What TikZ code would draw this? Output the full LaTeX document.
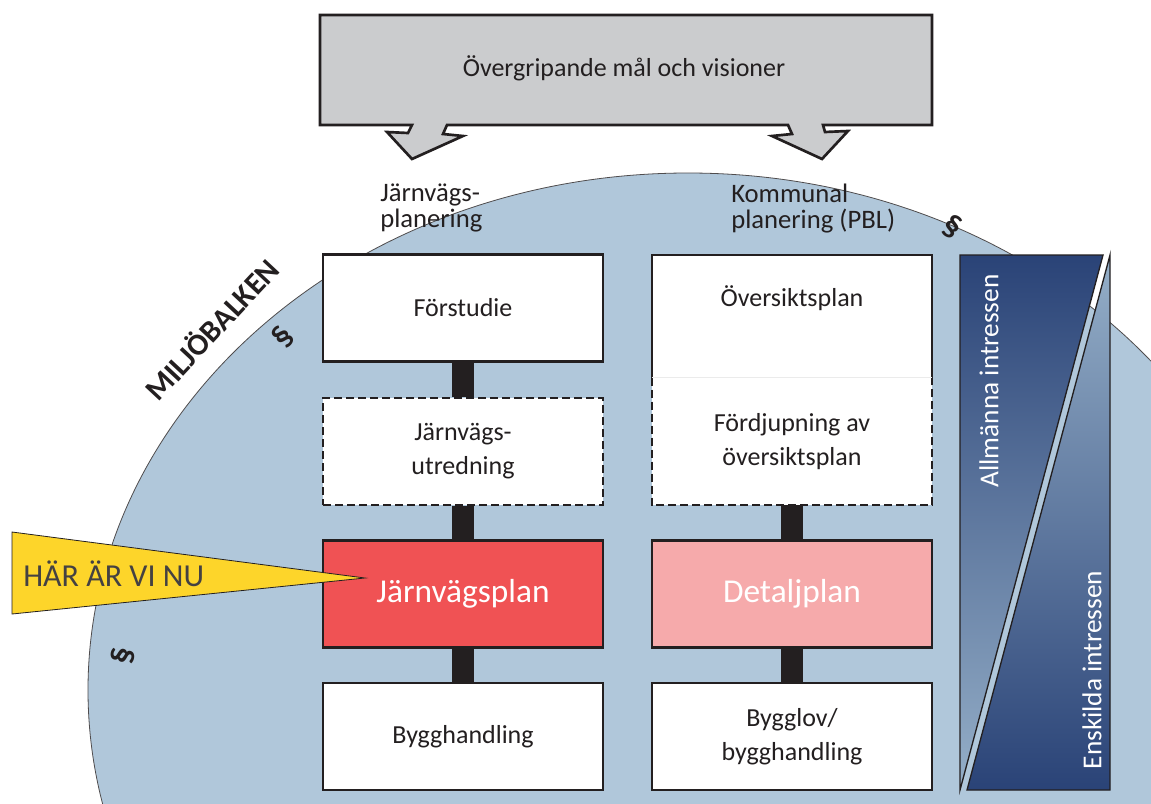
\documentclass[tikz,border=0pt]{standalone}
\usepackage{fontspec}
\setmainfont{Carlito}
\definecolor{bgblue}{HTML}{B0C7DA}
\definecolor{boxgray}{HTML}{CBCCCE}
\definecolor{redbox}{HTML}{F05254}
\definecolor{pinkbox}{HTML}{F6AAAB}
\definecolor{yel}{HTML}{FDD52A}
\definecolor{navy}{HTML}{2A4377}
\definecolor{lightnavy}{HTML}{95AFC8}
\definecolor{ink}{HTML}{231F20}
\begin{document}
\begin{tikzpicture}[x=0.75pt,y=-0.75pt,
  font=\fontsize{19.5}{25.5}\selectfont, text=ink,
  box/.style={minimum width=210pt, minimum height=80.25pt, inner sep=0pt,
    align=center, fill=white, draw=ink, line width=1.6pt},
  dbox/.style={box, dash pattern=on 6pt off 3pt},
  bigtext/.style={font=\fontsize{25}{27}\selectfont, text=white},
  bar/.style={line width=16.5pt, draw=ink},
  para/.style={font=\bfseries\fontsize{24}{24}\selectfont},
  lbl/.style={anchor=north west, align=left, inner sep=0pt, font=\fontsize{20}{19}\selectfont}
]
\useasboundingbox (0,0) rectangle (1151,803);
\fill[white] (0,0) rectangle (1151,803);
\begin{scope}
  \clip (0,0) rectangle (1151,803);
  \draw[fill=bgblue, draw=ink!80, line width=0.6pt] (688,690) ellipse [x radius=450pt, y radius=387.75pt];
\end{scope}

% top gray box with two arrows
\draw[fill=boxgray, draw=ink, line width=2pt, line join=miter]
  (320,15) -- (932,15) -- (932,125) -- (823,125) -- (825,132) -- (848,131) -- (822,159)
  -- (772,136) -- (792,134) -- (788,125) -- (447,125) -- (443,134) -- (463,136)
  -- (412,159) -- (387,132) -- (408,133) -- (412,125) -- (320,125) -- cycle;
\node (title) at (624,68) {Övergripande mål och visioner};

% column headings
\node[lbl] (jvp) at (380,184) {Järnvägs-\\planering};
\node[lbl] (kp) at (731,184) {Kommunal\\planering (PBL)};

% left column
\node[box] (fs) at (463,308) {Förstudie};
\node[dbox] (ju) at (463,451.5) {Järnvägs-\\utredning};
\node[box, fill=redbox, line width=2.2pt, bigtext] (jp) at (463,594) {Järnvägsplan};
\node[box] (bh) at (463,736.5) {Bygghandling};
\draw[bar] (fs) -- (ju);
\draw[bar] (ju) -- (jp);
\draw[bar] (jp) -- (bh);

% right column
\node[minimum width=210pt, minimum height=92.25pt, inner sep=0pt, fill=white] (osp) at (792,316.5) {};
\node (ospt) at (792,298) {Översiktsplan};
\node[minimum width=210pt, minimum height=95.25pt, inner sep=0pt, fill=white, align=center] (fdj) at (792,441.5) {Fördjupning av\\översiktsplan};
\draw[ink, line width=1.6pt] (osp.south west) -- (osp.north west) -- (osp.north east) -- (osp.south east);
\draw[ink, line width=1.6pt, dash pattern=on 6pt off 3pt] (fdj.north west) -- (fdj.south west) -- (fdj.south east) -- (fdj.north east);
\draw[black!8, line width=0.5pt] (fdj.north west) -- (fdj.north east);
\node[box, fill=pinkbox, line width=2.2pt, bigtext] (dp) at (792,594) {Detaljplan};
\node[box] (bl) at (792,736.5) {Bygglov/\\bygghandling};
\draw[bar] (fdj) -- (dp);
\draw[bar] (dp) -- (bl);

% right panel
\shade[top color=navy, bottom color=lightnavy] (960,255) -- (1103,255) -- (960,790) -- cycle;
\draw[ink, line width=1pt] (960,255) -- (1103,255) -- (960,790) -- cycle;
\shade[top color=lightnavy, bottom color=navy] (1110,255) -- (1110,790) -- (967,790) -- cycle;
\draw[ink, line width=1pt] (1110,255) -- (1110,790) -- (967,790) -- cycle;
\node[rotate=90, text=white, font=\fontsize{20.5}{22}\selectfont] (ai) at (989,381) {Allmänna intressen};
\node[rotate=90, text=white, font=\fontsize{20.5}{22}\selectfont] (ei) at (1092,670) {Enskilda intressen};

% pointer
\draw[fill=yel, draw=ink, line width=0.6pt] (12,532) -- (365,578) -- (12,614) -- cycle;
\node[anchor=base west, inner sep=0pt, font=\fontsize{24}{24}\selectfont, text=ink!85] (here) at (23,586) {HÄR ÄR VI NU};

% law labels
\node[rotate=47, anchor=base, inner sep=0pt, font=\bfseries\fontsize{23}{23}\selectfont] (mb) at (220,337) {MILJÖBALKEN};
\node[para, rotate=50] (p1) at (283,337) {§};
\node[para, rotate=80] (p2) at (123,656) {§};
\node[para, rotate=-30] (p3) at (952,227) {§};
\end{tikzpicture}
\end{document}
